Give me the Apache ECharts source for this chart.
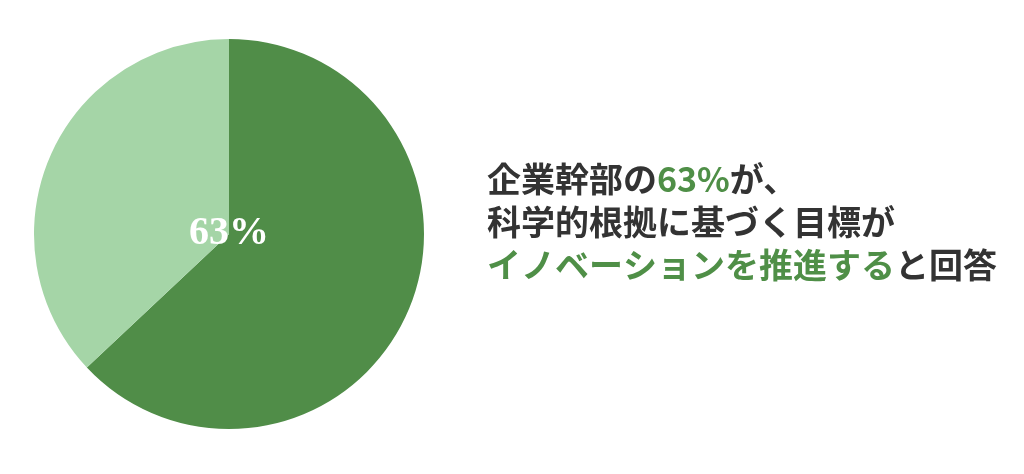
<!DOCTYPE html>
<html><head><meta charset="utf-8">
<script src="https://cdn.jsdelivr.net/npm/echarts@6/dist/echarts.min.js"></script>
<style>html,body{margin:0;padding:0;background:#fff}#c{width:1024px;height:474px}</style>
</head><body><div id="c"></div>
<script>
const categories = ['推進する', 'その他'];
const values = [63, 37];
const colors = ['#508d48', '#a5d5a7'];
const headline = [
  [['企業幹部の','d'],['63%','g'],['が、','d']],
  [['科学的根拠に基づく目標が','d']],
  [['イノベーションを推進する','g'],['と回答','d']]
];
const chart = echarts.init(document.getElementById('c'));
const text = headline.map(l => l.map(s => '{' + s[1] + '|' + s[0] + '}').join('')).join('\n');
const rs = {fontFamily:'Noto Sans CJK JP', fontWeight:'bold', fontSize:34, lineHeight:43};
chart.setOption({
  animation:false,
  title:{
    left:482, top:153,
    text:text,
    textStyle:{rich:{d:Object.assign({color:'#333333'},rs), g:Object.assign({color:'#4f8f47'},rs)}}
  },
  series:[{
    type:'pie', center:[229,234], radius:[0,195], startAngle:90, clockwise:true,
    silent:true,
    labelLine:{show:false},
    data: categories.map((n,i)=>({name:n, value:values[i], itemStyle:{color:colors[i]},
      label:{show:i===0, position:'center', formatter:'{d}%', color:'#fff',
        fontFamily:'Liberation Serif', fontWeight:'bold', fontSize:40}}))
  }]
});
</script></body></html>
